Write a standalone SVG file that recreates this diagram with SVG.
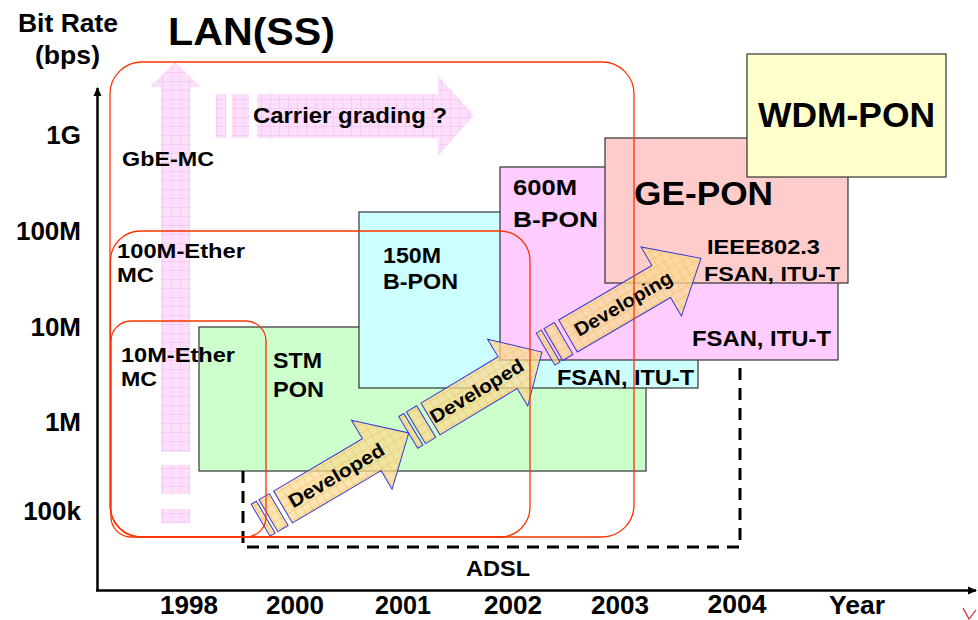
<svg xmlns="http://www.w3.org/2000/svg" width="978" height="620" viewBox="0 0 978 620">
<defs>
<pattern id="pinkGrid" width="9" height="9" patternUnits="userSpaceOnUse">
<rect width="9" height="9" fill="#fcdcf9"/>
<path d="M0 0.5H9M0.5 0V9" stroke="#f5bff1" stroke-width="0.8"/>
</pattern>
<pattern id="orGrid" width="8" height="8" patternUnits="userSpaceOnUse">
<rect width="8" height="8" fill="#fadb94" fill-opacity="0.72"/>
<path d="M0 0.5H8M0.5 0V8" stroke="#f4c060" stroke-width="0.7" stroke-opacity="0.8"/>
</pattern>
<marker id="ah" markerWidth="10" markerHeight="10" refX="8" refY="5" orient="auto" markerUnits="userSpaceOnUse">
<path d="M0,1 L9,5 L0,9 Z" fill="#000"/>
</marker>
</defs>
<style>
.t{font-family:"Liberation Sans",Arial,Helvetica,sans-serif;font-weight:bold;fill:#000}
.box{stroke:#333;stroke-width:1.2}
.lan{fill:none;stroke:#ff3300;stroke-width:1.3}
.pk{fill:url(#pinkGrid);fill-opacity:0.9}
.ar{fill:url(#orGrid);stroke:#3a3ad0;stroke-width:1}
</style>
<rect width="978" height="620" fill="#fff"/>

<!-- pink trend arrows -->
<g id="gbe-arrow">
<polygon class="pk" points="175,62 201,87 190,87 190,452 161,452 161,87 150,87"/>
<rect class="pk" x="161" y="465" width="29" height="29"/>
<rect class="pk" x="161" y="509" width="29" height="14"/>
</g>
<g id="carrier-arrow">
<rect class="pk" x="216" y="94" width="10" height="44"/>
<rect class="pk" x="232" y="94" width="17" height="44"/>
<polygon class="pk" points="257,94 438,94 438,76 474,115 438,156 438,138 257,138"/>
<text class="t" x="253" y="123" font-size="22" textLength="194" lengthAdjust="spacingAndGlyphs">Carrier grading ?</text>
</g>

<!-- technology boxes -->
<g id="stm-pon">
<rect class="box" x="199" y="327" width="447" height="144" fill="#ccffcc"/>
</g>
<g id="b-pon-150">
<rect class="box" x="359" y="212" width="339" height="176" fill="#ccffff"/>
</g>
<g id="b-pon-600">
<rect class="box" x="500" y="167" width="338" height="193" fill="#ffccff"/>
</g>
<g id="ge-pon">
<rect class="box" x="605" y="138" width="243" height="145" fill="#ffcccc"/>
</g>
<g id="wdm-pon">
<rect class="box" x="747" y="54" width="199" height="123" fill="#ffffcc"/>
<text class="t" x="758" y="127" font-size="35" textLength="177" lengthAdjust="spacingAndGlyphs">WDM-PON</text>
</g>

<!-- ADSL dashed -->
<g id="adsl">
<path d="M243,471 V547 H740 V360" fill="none" stroke="#000" stroke-width="3" stroke-dasharray="12,8"/>
<text class="t" x="466" y="576" font-size="22" textLength="64" lengthAdjust="spacingAndGlyphs">ADSL</text>
</g>

<!-- connectors: development arrows -->
<g id="connectors">
<g transform="translate(283,507) rotate(-30.5)">
<rect class="ar" x="-26" y="-18.5" width="6" height="37"/>
<rect class="ar" x="-17" y="-18.5" width="12" height="37"/>
<path class="ar" d="M0,-18.5 H103 V-40 L146,0 L103,40 V18.5 H0 Z"/>
<text class="t" x="62" y="6.5" font-size="19" text-anchor="middle" textLength="108" lengthAdjust="spacingAndGlyphs">Developed</text>
</g>
<g transform="translate(430.5,419) rotate(-31)">
<rect class="ar" x="-26" y="-18.5" width="6" height="37"/>
<rect class="ar" x="-17" y="-18.5" width="12" height="37"/>
<path class="ar" d="M0,-18.5 H90 V-39 L130,0 L90,39 V18.5 H0 Z"/>
<text class="t" x="54" y="6.5" font-size="19" text-anchor="middle" textLength="106" lengthAdjust="spacingAndGlyphs">Developed</text>
</g>
<g transform="translate(568,336) rotate(-30.3)">
<rect class="ar" x="-26" y="-18.5" width="6" height="37"/>
<rect class="ar" x="-17" y="-18.5" width="12" height="37"/>
<path class="ar" d="M0,-18.5 H108 V-40 L154,0 L108,40 V18.5 H0 Z"/>
<text class="t" x="64" y="6.5" font-size="19" text-anchor="middle" textLength="110" lengthAdjust="spacingAndGlyphs">Developing</text>
</g>
</g>

<!-- LAN rounded regions -->
<g id="lan-gbe">
<rect class="lan" x="110" y="62" width="524" height="475" rx="32" ry="32"/>
<text class="t" x="122" y="166" font-size="21" textLength="92" lengthAdjust="spacingAndGlyphs">GbE-MC</text>
</g>
<g id="lan-100m">
<rect class="lan" x="110.5" y="231" width="419.5" height="306" rx="30" ry="30"/>
<text class="t" x="117" y="258" font-size="21" textLength="128" lengthAdjust="spacingAndGlyphs">100M-Ether</text>
<text class="t" x="117" y="282" font-size="21" textLength="37" lengthAdjust="spacingAndGlyphs">MC</text>
</g>
<g id="lan-10m">
<rect class="lan" x="111" y="321" width="155" height="216" rx="20" ry="20"/>
<text class="t" x="121" y="362" font-size="21" textLength="114" lengthAdjust="spacingAndGlyphs">10M-Ether</text>
<text class="t" x="121" y="386" font-size="21" textLength="36" lengthAdjust="spacingAndGlyphs">MC</text>
</g>

<!-- box labels -->
<g id="labels">
<text class="t" x="273" y="368" font-size="22" textLength="49" lengthAdjust="spacingAndGlyphs">STM</text>
<text class="t" x="273" y="397" font-size="22" textLength="51" lengthAdjust="spacingAndGlyphs">PON</text>
<text class="t" x="383" y="263" font-size="22" textLength="58" lengthAdjust="spacingAndGlyphs">150M</text>
<text class="t" x="383" y="289" font-size="22" textLength="75" lengthAdjust="spacingAndGlyphs">B-PON</text>
<text class="t" x="557" y="385" font-size="22" textLength="137" lengthAdjust="spacingAndGlyphs">FSAN, ITU-T</text>
<text class="t" x="513" y="195" font-size="22" textLength="64" lengthAdjust="spacingAndGlyphs">600M</text>
<text class="t" x="513" y="227" font-size="22" textLength="85" lengthAdjust="spacingAndGlyphs">B-PON</text>
<text class="t" x="692" y="346" font-size="22" textLength="139" lengthAdjust="spacingAndGlyphs">FSAN, ITU-T</text>
<text class="t" x="634" y="205" font-size="34" textLength="139" lengthAdjust="spacingAndGlyphs">GE-PON</text>
<text class="t" x="707" y="254" font-size="21" textLength="113" lengthAdjust="spacingAndGlyphs">IEEE802.3</text>
<text class="t" x="704" y="281" font-size="21" textLength="136" lengthAdjust="spacingAndGlyphs">FSAN, ITU-T</text>
</g>

<!-- axes -->
<g id="axes">
<line x1="97.5" y1="591" x2="97.5" y2="88" stroke="#000" stroke-width="2.5" marker-end="url(#ah)"/>
<line x1="96" y1="590.5" x2="976" y2="590.5" stroke="#000" stroke-width="2.5" marker-end="url(#ah)"/>
<text class="t" x="18" y="32" font-size="25" textLength="100" lengthAdjust="spacingAndGlyphs">Bit Rate</text>
<text class="t" x="35" y="64" font-size="25" textLength="65" lengthAdjust="spacingAndGlyphs">(bps)</text>
<text class="t" x="168" y="45" font-size="39" textLength="167" lengthAdjust="spacingAndGlyphs">LAN(SS)</text>
<g font-size="26" text-anchor="end">
<text class="t" x="81" y="144">1G</text>
<text class="t" x="81" y="240">100M</text>
<text class="t" x="81" y="336">10M</text>
<text class="t" x="81" y="431">1M</text>
<text class="t" x="81" y="520">100k</text>
</g>
<g font-size="25" text-anchor="middle">
<text class="t" x="189" y="614" textLength="58" lengthAdjust="spacingAndGlyphs">1998</text>
<text class="t" x="295" y="614" textLength="58" lengthAdjust="spacingAndGlyphs">2000</text>
<text class="t" x="403" y="614" textLength="56" lengthAdjust="spacingAndGlyphs">2001</text>
<text class="t" x="513" y="614" textLength="58" lengthAdjust="spacingAndGlyphs">2002</text>
<text class="t" x="620" y="614" textLength="58" lengthAdjust="spacingAndGlyphs">2003</text>
<text class="t" x="737" y="613" textLength="59" lengthAdjust="spacingAndGlyphs">2004</text>
<text class="t" x="857" y="614" textLength="56" lengthAdjust="spacingAndGlyphs">Year</text>
</g>
<path d="M963,608 L969,619 L976,610" fill="none" stroke="#dd2222" stroke-width="1.2"/>
</g>
</svg>
